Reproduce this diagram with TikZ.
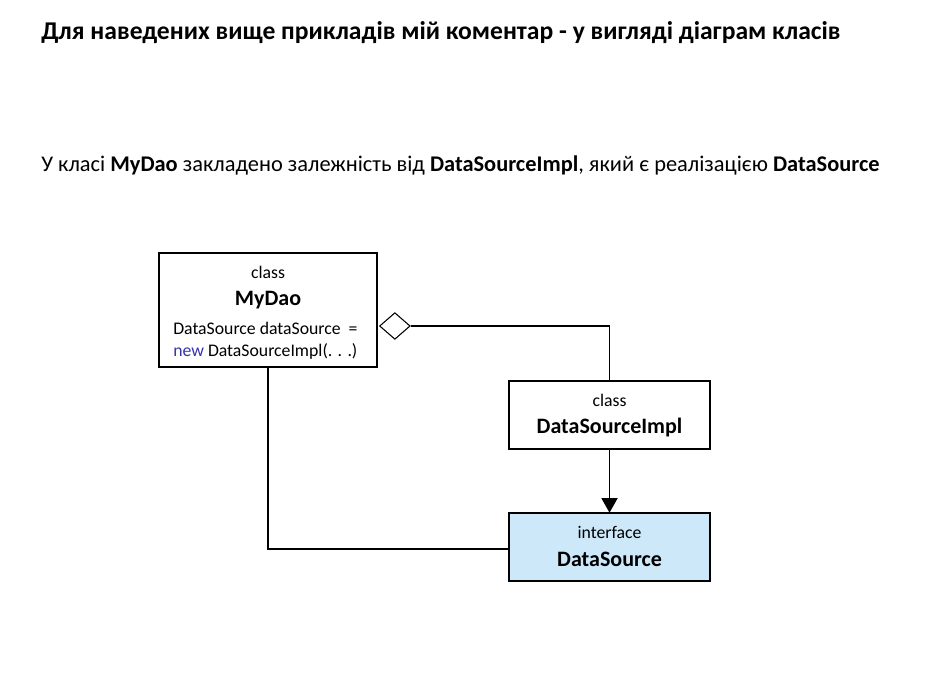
\documentclass[tikz,border=0pt]{standalone}
\usepackage{fontspec}
\setmainfont{Carlito}
\usetikzlibrary{arrows.meta,shapes.geometric}
\definecolor{ifill}{HTML}{CDE8F9}
\definecolor{kw}{HTML}{3333B0}
\tikzset{
  px/.style={x=0.75pt,y=-0.75pt},
  umlbox/.style={draw=black,line width=1.8pt},
  conn/.style={draw=black,line width=1.4pt},
  thin/.style={draw=black,line width=1.1pt},
  small/.style={font=\fontsize{13.3}{15}\selectfont},
  big/.style={font=\fontsize{16.5}{18}\selectfont\bfseries},
}
\begin{document}
\begin{tikzpicture}[px]
\useasboundingbox[fill=white] (0,0) rectangle (948,699);
% headings
\node[anchor=west,inner sep=0pt,font=\fontsize{19.2}{22}\selectfont\bfseries] (title) at (41,33) {Для наведених вище прикладів мій коментар - у вигляді діаграм класів};
\node[anchor=west,inner sep=0pt,font=\fontsize{16.8}{19}\selectfont] (sub) at (41,165) {У класі \textbf{MyDao} закладено залежність від \textbf{DataSourceImpl}, який є реалізацією \textbf{DataSource}};
% boxes
\draw[umlbox] (159,253) rectangle (377,367);
\node (mydao) at (268,310) [minimum width=163.5pt,minimum height=85.5pt,inner sep=0pt] {};
\node[small] (c1) at (268,272) {class};
\node[big] (n1) at (268,300) {MyDao};
\node[anchor=west,small,inner sep=0pt] (f1) at (173,328) {DataSource dataSource \ =};
\node[anchor=west,small,inner sep=0pt] (f2) at (173,351) {\textcolor{kw}{new} DataSourceImpl(. . .)};

\draw[umlbox] (509,381) rectangle (710,449);
\node (impl) at (609.5,415) [minimum width=150.75pt,minimum height=51pt,inner sep=0pt] {};
\node[small] (c2) at (609.5,400) {class};
\node[big] (n2) at (609.5,428) {DataSourceImpl};

\draw[umlbox,fill=ifill] (509,513) rectangle (710,581);
\node (ds) at (609.5,547) [minimum width=150.75pt,minimum height=51pt,inner sep=0pt] {};
\node[small] (c3) at (609.5,532) {interface};
\node[big] (n3) at (609.5,559) {DataSource};

% aggregation diamond
\node[diamond,draw=black,line width=0.8pt,fill=white,minimum width=23pt,minimum height=20pt,inner sep=0pt,anchor=west] (dia) at (379,326) {};
\draw[thin] (dia.east) -| (impl.north);
% realization arrow
\draw[conn,-{Triangle[length=11pt,width=12pt]}] (impl.south) -- (ds.north);
% dependency line
\coordinate (bend) at (268,549);
\draw[conn] (mydao.south) -- (bend) -- (ds.west|-bend);
\end{tikzpicture}
\end{document}
